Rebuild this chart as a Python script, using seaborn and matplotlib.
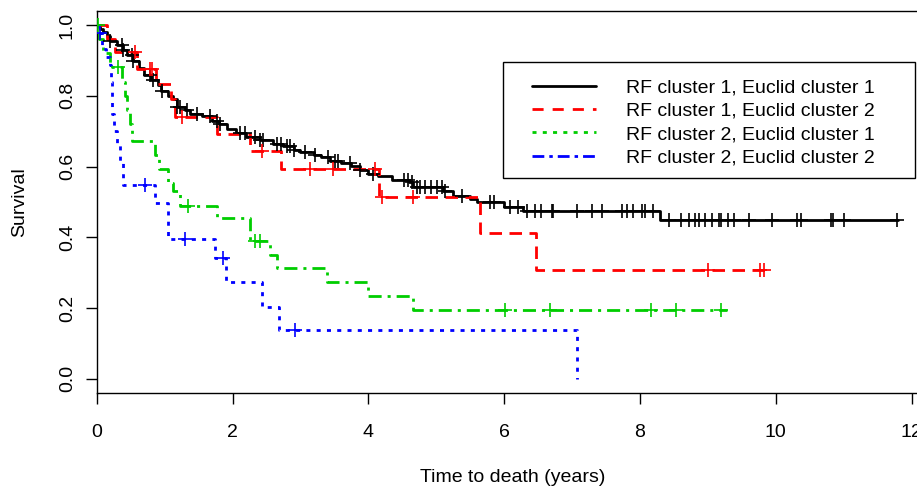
import numpy as np
import pandas as pd
import matplotlib
matplotlib.use("Agg")
import matplotlib.pyplot as plt
from matplotlib.lines import Line2D
from matplotlib.patches import Rectangle
import seaborn as sns

# ---------------- data ----------------
labels = ["RF cluster 1, Euclid cluster 1", "RF cluster 1, Euclid cluster 2",
          "RF cluster 2, Euclid cluster 1", "RF cluster 2, Euclid cluster 2"]

# RF1 / Euclid1 (black)
bk_t = [0.05, 0.10, 0.15, 0.20, 0.30, 0.39, 0.45, 0.54, 0.62, 0.69, 0.80, 0.90, 0.95, 1.05, 1.13,
        1.18, 1.30, 1.37, 1.55, 1.70, 1.80, 1.92, 2.05, 2.20, 2.40, 2.60, 2.75, 2.90, 3.00, 3.20,
        3.30, 3.44, 3.60, 3.75, 3.88, 4.00, 4.15, 4.35, 4.60, 4.66, 5.10, 5.25, 5.50, 5.60, 6.00,
        6.28, 8.30]
bk_s = [0.99, 0.98, 0.97, 0.955, 0.945, 0.93, 0.915, 0.90, 0.88, 0.86, 0.845, 0.83, 0.815, 0.80, 0.79,
        0.77, 0.76, 0.75, 0.743, 0.73, 0.72, 0.706, 0.695, 0.685, 0.675, 0.665, 0.658, 0.648, 0.641, 0.632,
        0.627, 0.616, 0.61, 0.603, 0.59, 0.58, 0.573, 0.562, 0.556, 0.542, 0.53, 0.516, 0.508, 0.499, 0.485,
        0.474, 0.448]
bk_end = 11.8
bk_c = [0.20, 0.37, 0.39, 0.52, 0.54, 0.785, 0.83, 0.96, 1.18, 1.23, 1.33, 1.47, 1.67, 1.77, 1.82,
        2.11, 2.18, 2.33, 2.40, 2.45, 2.65, 2.72, 2.80, 2.85, 2.90, 3.07, 3.21, 3.41, 3.51, 3.56,
        3.73, 3.88, 4.07, 4.52, 4.59, 4.64, 4.71, 4.76, 4.84, 4.93, 5.01, 5.08, 5.13, 5.38, 5.79,
        5.85, 6.09, 6.20, 6.33, 6.46, 6.54, 6.70, 6.72, 7.07, 7.29, 7.44, 7.73, 7.81, 7.90, 8.03,
        8.08, 8.20, 8.43, 8.60, 8.73, 8.81, 8.87, 8.96, 9.06, 9.17, 9.19, 9.30, 9.38, 9.60, 9.95,
        10.31, 10.37, 10.81, 10.85, 11.01, 11.78]

# RF1 / Euclid2 (red)
rd_t = [0.15, 0.27, 0.60, 0.88, 1.10, 1.16, 1.77, 2.26, 2.72, 4.16, 5.65, 6.47]
rd_s = [0.962, 0.924, 0.877, 0.834, 0.79, 0.74, 0.692, 0.645, 0.593, 0.513, 0.413, 0.309]
rd_end = 9.86
rd_c = [0.57, 0.78, 0.81, 1.25, 2.43, 3.14, 3.48, 4.10, 4.20, 4.66, 9.01, 9.77, 9.83]

# RF2 / Euclid1 (green)
gr_t = [0.04, 0.10, 0.20, 0.37, 0.41, 0.45, 0.49, 0.52, 0.86, 0.92, 1.05, 1.13, 1.22, 1.77, 2.26,
        2.55, 2.65, 3.39, 4.00, 4.66]
gr_s = [0.961, 0.922, 0.881, 0.84, 0.80, 0.76, 0.72, 0.673, 0.633, 0.593, 0.553, 0.53, 0.489, 0.456,
        0.39, 0.35, 0.313, 0.273, 0.234, 0.196]
gr_end = 9.28
gr_c = [0.02, 0.32, 1.35, 2.33, 2.40, 6.01, 6.68, 8.17, 8.53, 9.19]

# RF2 / Euclid2 (blue)
bl_t = [0.02, 0.08, 0.14, 0.20, 0.21, 0.22, 0.23, 0.25, 0.30, 0.34, 0.39, 0.86, 1.05, 1.74, 1.91,
        2.43, 2.69, 7.08]
bl_s = [0.977, 0.932, 0.909, 0.886, 0.84, 0.795, 0.75, 0.70, 0.66, 0.61, 0.547, 0.498, 0.396, 0.342,
        0.273, 0.203, 0.137, 0.0]
bl_end = 7.08
bl_c = [0.05, 0.71, 1.30, 1.86, 2.92]

x_ticks = [0, 2, 4, 6, 8, 10, 12]
y_ticks = [0.0, 0.2, 0.4, 0.6, 0.8, 1.0]
y_ticklabels = ["0.0", "0.2", "0.4", "0.6", "0.8", "1.0"]

# ---------------- styling ----------------
sns.set_style("ticks")
plt.rcParams["font.family"] = ["Liberation Sans", "DejaVu Sans"]
plt.rcParams["lines.scale_dashes"] = False

colors = ["#000000", "#FF0000", "#00CD00", "#0000FF"]
plot_dashes = [None, (9, 5.4), (2.2, 4.3, 9.4, 4.3), (2.9, 4.5)]
legend_dashes = [None, (8, 6.5), (2.9, 4.5), (8.5, 3.6, 2.5, 3.6)]

W, H = 917, 488
px_left, px_right, px_top, px_bottom = 96.7, 932.0, 11.0, 393.0
px_per_year = 67.9

fig = plt.figure(figsize=(W / 100, H / 100), dpi=100)
fig.patch.set_facecolor("white")
ax = fig.add_axes([px_left / W, 1 - px_bottom / H,
                   (px_right - px_left) / W, (px_bottom - px_top) / H])
ax.set_facecolor("white")

curves = [(bk_t, bk_s, bk_end, bk_c), (rd_t, rd_s, rd_end, rd_c),
          (gr_t, gr_s, gr_end, gr_c), (bl_t, bl_s, bl_end, bl_c)]

lw = 2.0
for (t, s, end, cens), col, dsh in zip(curves, colors, plot_dashes):
    xs = np.r_[0.0, t, end]
    ys = np.r_[1.0, s, s[-1]]
    df = pd.DataFrame({"time": xs, "surv": ys})
    sns.lineplot(data=df, x="time", y="surv", ax=ax, color=col, linewidth=lw,
                 drawstyle="steps-post", estimator=None, sort=False, legend=False)
    ln = ax.lines[-1]
    if dsh is None:
        ln.set_linestyle("-")
    else:
        ln.set_dashes(dsh)
    cens = np.asarray(cens)
    idx = np.searchsorted(xs, cens, side="right") - 1
    cdf = pd.DataFrame({"time": cens, "surv": ys[idx]})
    sns.scatterplot(data=cdf, x="time", y="surv", ax=ax, marker="+", s=95,
                    color=col, linewidth=1.2, legend=False, zorder=3)

ax.set_xlim(0, (px_right - px_left) / px_per_year)
ax.set_ylim(-0.04, 1.04)
ax.set_xticks(x_ticks)
ax.set_xticklabels([str(v) for v in x_ticks])
ax.set_yticks(y_ticks)
ax.set_yticklabels(y_ticklabels)
ax.set_xlabel("")
ax.set_ylabel("")
ax.tick_params(length=8, width=1, direction="out", labelsize=14,
               color="black", labelcolor="black")
ax.tick_params(axis="x", pad=14)
ax.tick_params(axis="y", pad=7, labelrotation=90)
for lab in ax.get_yticklabels():
    lab.set_va("center")
for sp in ax.spines.values():
    sp.set_color("black")
    sp.set_linewidth(1.0)
    sp.set_visible(True)

fig.text(513 / W, 1 - 478 / H, "Time to death (years)", ha="center", va="center",
         fontsize=14, color="black")
fig.text(20 / W, 1 - 202 / H, "Survival", ha="center", va="center", rotation=90,
         fontsize=14, color="black")

# legend box and entries
box = Rectangle((503 / W, 1 - 178 / H), (915 - 503) / W, (178 - 62) / H,
                transform=fig.transFigure, facecolor="white",
                edgecolor="black", linewidth=1.0, zorder=4, clip_on=False)
ax.add_patch(box)
handles = []
for col, dsh in zip(colors, legend_dashes):
    h = Line2D([0], [0], color=col, linewidth=lw)
    if dsh is not None:
        h.set_dashes(dsh)
    handles.append(h)
fs_px = 14 * 100 / 72
leg = ax.legend(handles, labels, loc="upper left",
                bbox_to_anchor=(532 / W, 1 - 79 / H), bbox_transform=fig.transFigure,
                frameon=False, borderpad=0, borderaxespad=0,
                handlelength=64 / fs_px, handletextpad=30 / fs_px,
                labelspacing=0.29, fontsize=14)
leg.set_zorder(6)
for txt in leg.get_texts():
    txt.set_color("black")

fig.savefig("out.png", dpi=100, facecolor="white")
